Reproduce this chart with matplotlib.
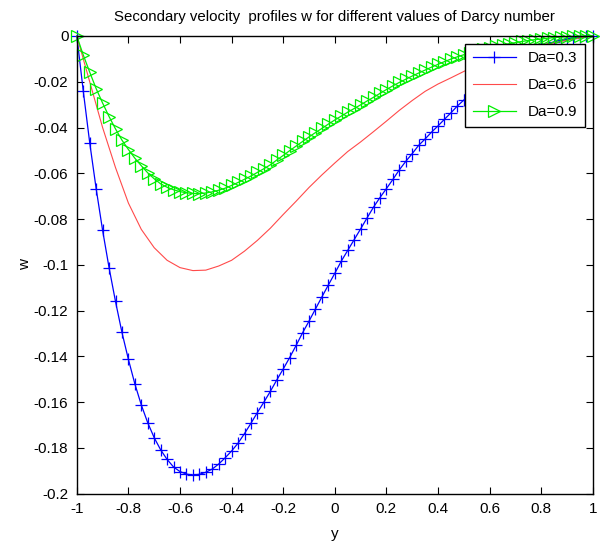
import numpy as np
import matplotlib
matplotlib.use("Agg")
import matplotlib.pyplot as plt

plt.rcParams['font.family'] = ['Liberation Sans', 'DejaVu Sans']

# y grid used for the marked curves (81 points) and the plain red curve (41 points)
y_fine = np.linspace(-1, 1, 81)
y_coarse = np.linspace(-1, 1, 41)

w_da03 = [0.0, -0.0240, -0.0466, -0.0667, -0.0849, -0.1012, -0.1160, -0.1295, -0.1413, -0.1520,
          -0.1612, -0.1690, -0.1755, -0.1808, -0.1850, -0.1883, -0.1903, -0.1914, -0.1918, -0.1915,
          -0.1906, -0.1892, -0.1870, -0.1843, -0.1813, -0.1779, -0.1737, -0.1692, -0.1645, -0.1600,
          -0.1553, -0.1503, -0.1455, -0.1405, -0.1352, -0.1297, -0.1246, -0.1193, -0.1140, -0.1088,
          -0.1037, -0.0984, -0.0937, -0.0890, -0.0843, -0.0795, -0.0748, -0.0706, -0.0667, -0.0627,
          -0.0585, -0.0548, -0.0514, -0.0478, -0.0450, -0.0420, -0.0393, -0.0364, -0.0336, -0.0306,
          -0.0280, -0.0254, -0.0229, -0.0204, -0.0181, -0.0159, -0.0138, -0.0119, -0.0101, -0.0085,
          -0.0070, -0.0057, -0.0045, -0.0035, -0.0026, -0.0018, -0.0012, -0.0007, -0.0004, -0.0001,
          0.0]

w_da06 = [0.0, -0.0200, -0.0400, -0.0575, -0.0730, -0.0845, -0.0925, -0.0980, -0.1012, -0.1025,
          -0.1023, -0.1005, -0.0980, -0.0940, -0.0893, -0.0840, -0.0780, -0.0722, -0.0662, -0.0607,
          -0.0555, -0.0505, -0.0463, -0.0418, -0.0372, -0.0325, -0.0282, -0.0242, -0.0210, -0.0183,
          -0.0155, -0.0128, -0.0105, -0.0085, -0.0066, -0.0050, -0.0039, -0.0030, -0.0019, -0.0009,
          0.0]

w_da09 = [0.0, -0.0083, -0.0158, -0.0230, -0.0293, -0.0352, -0.0406, -0.0455, -0.0496, -0.0534,
          -0.0567, -0.0598, -0.0624, -0.0646, -0.0661, -0.0672, -0.0680, -0.0685, -0.0688, -0.0689,
          -0.0686, -0.0681, -0.0674, -0.0665, -0.0653, -0.0640, -0.0626, -0.0612, -0.0596, -0.0580,
          -0.0563, -0.0542, -0.0522, -0.0501, -0.0481, -0.0461, -0.0441, -0.0422, -0.0404, -0.0385,
          -0.0367, -0.0350, -0.0333, -0.0317, -0.0301, -0.0284, -0.0268, -0.0251, -0.0234, -0.0218,
          -0.0203, -0.0189, -0.0175, -0.0162, -0.0149, -0.0136, -0.0124, -0.0112, -0.0101, -0.0091,
          -0.0082, -0.0073, -0.0065, -0.0058, -0.0051, -0.0045, -0.0039, -0.0034, -0.0029, -0.0024,
          -0.0020, -0.0016, -0.0013, -0.0010, -0.0007, -0.0005, -0.0003, -0.0002, -0.0001, 0.0,
          0.0]

x_ticks = [-1, -0.8, -0.6, -0.4, -0.2, 0, 0.2, 0.4, 0.6, 0.8, 1]
x_labels = ['-1', '-0.8', '-0.6', '-0.4', '-0.2', '0', '0.2', '0.4', '0.6', '0.8', '1']
w_ticks = [0, -0.02, -0.04, -0.06, -0.08, -0.1, -0.12, -0.14, -0.16, -0.18, -0.2]
w_labels = ['0', '-0.02', '-0.04', '-0.06', '-0.08', '-0.1', '-0.12', '-0.14', '-0.16', '-0.18', '-0.2']

fig = plt.figure(figsize=(6, 5.45), dpi=100)
ax = fig.add_axes([0.128, 0.094, 0.86, 0.84])

ax.plot(y_fine, w_da03, color='#0000ff', lw=0.9, marker='+', ms=8, mew=0.9,
        label='Da=0.3', clip_on=False)
ax.plot(y_coarse, w_da06, color='#ff4a4a', lw=0.8, label='Da=0.6', clip_on=False)
ax.plot(y_fine, w_da09, color='#00ee00', lw=0.9, marker='>', ms=8, mfc='none', mew=0.9,
        label='Da=0.9', clip_on=False)

ax.set_xlim(-1, 1)
ax.set_ylim(-0.2, 0)
ax.set_xticks(x_ticks)
ax.set_xticklabels(x_labels)
ax.set_yticks(w_ticks)
ax.set_yticklabels(w_labels)
ax.tick_params(direction='in', top=True, right=True, length=5, width=0.8, labelsize=11, pad=6)
for s in ax.spines.values():
    s.set_linewidth(1.0)

ax.set_xlabel('y', fontsize=11, labelpad=8)
ax.set_ylabel('w', fontsize=11, labelpad=1)
ax.set_title('Secondary velocity  profiles w for different values of Darcy number',
             fontsize=10.8, pad=11)

leg = ax.legend(loc='upper right', fontsize=11, fancybox=False, edgecolor='black',
                framealpha=1, borderaxespad=0.5, handlelength=2.8, borderpad=0.5,
                labelspacing=0.85)
leg.get_frame().set_linewidth(1.0)

fig.savefig('out.png', dpi=100)
